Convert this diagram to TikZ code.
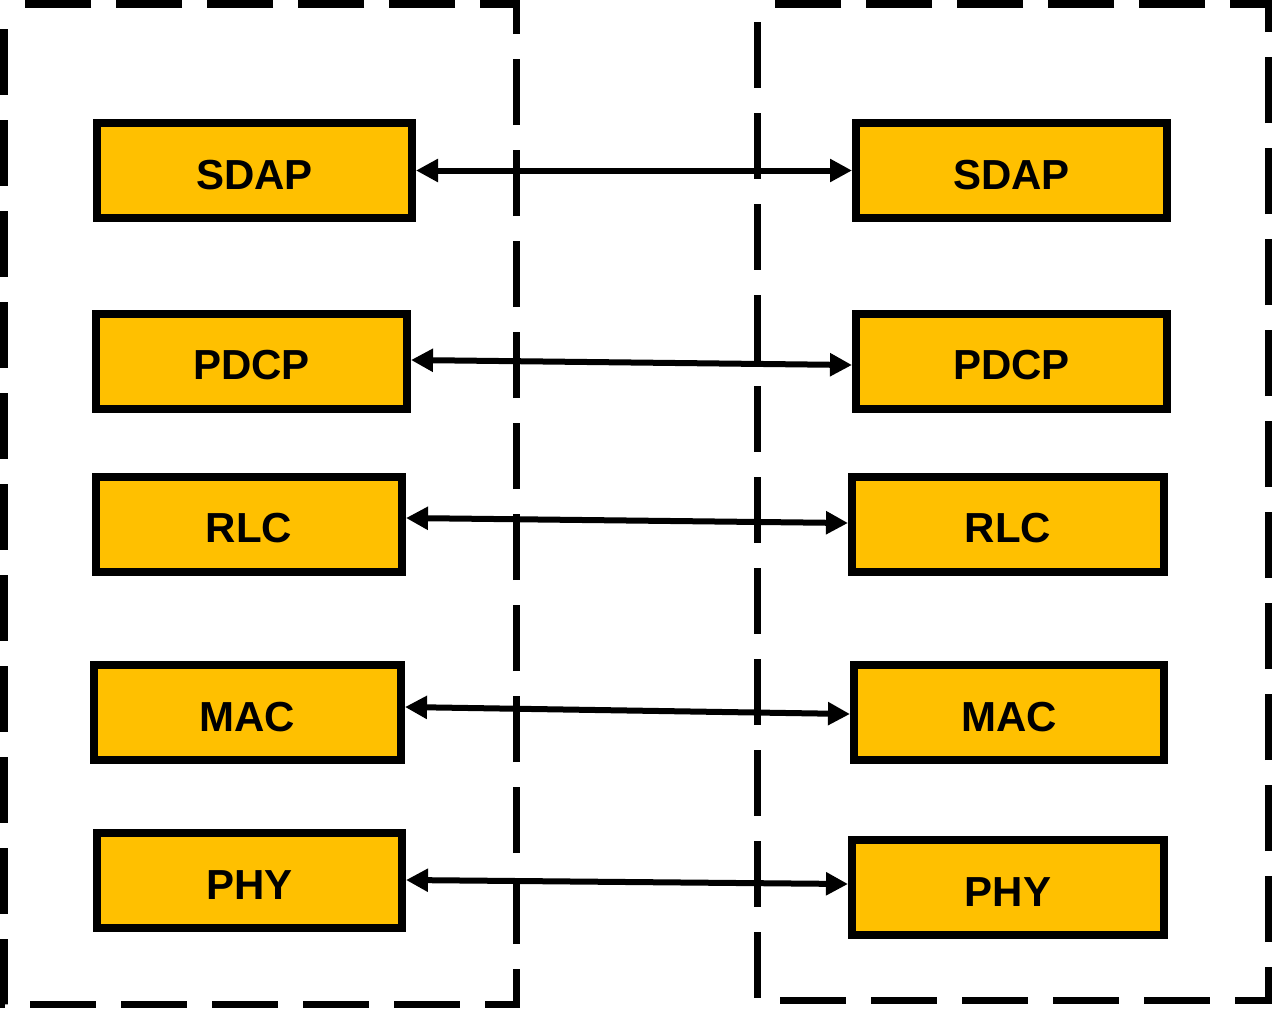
\documentclass[tikz,border=0pt]{standalone}
\usepackage{fontspec}
\setmainfont{Liberation Sans}
\usetikzlibrary{arrows.meta}
\definecolor{layerfill}{RGB}{255,192,0}
\begin{document}
\begin{tikzpicture}[x=1pt,y=-1pt,
  layer/.style={draw=black,fill=layerfill,line width=8pt,rectangle,
    minimum height=95pt,inner sep=0pt,text height=37pt,text depth=0pt,
    font=\fontsize{42}{50}\selectfont\bfseries},
  frame/.style={draw=black,line width=7pt,dash pattern=on 66pt off 25pt},
  link/.style={draw=black,line width=6pt,{Triangle[length=22pt,width=22pt]}-{Triangle[length=22pt,width=22pt]}}]
\useasboundingbox (0,0) rectangle (1273,1009);
% dashed frames
\draw[frame,dash phase=66pt] (4,4) -- (4,1004) -- (516,1004) -- (516,4) -- cycle;
\draw[frame,dash phase=73pt] (757,4) -- (757,1000) -- (1268,1000) -- (1268,4) -- cycle;
% left stack
\node[layer,minimum width=315pt] (ls) at (254.5,170.5) {SDAP};
\node[layer,minimum width=311pt] (lp) at (251.5,361) {PDCP};
\node[layer,minimum width=306pt] (lr) at (249,524) {RLC};
\node[layer,minimum width=307pt] (lm) at (247.5,712.5) {MAC};
\node[layer,minimum width=305pt] (lh) at (249.5,880.5) {PHY};
% right stack
\node[layer,minimum width=311pt] (rs) at (1011.5,170.5) {SDAP};
\node[layer,minimum width=311pt] (rp) at (1011.5,361) {PDCP};
\node[layer,minimum width=312pt] (rr) at (1008,524) {RLC};
\node[layer,minimum width=310pt] (rm) at (1009,712.5) {MAC};
\node[layer,minimum width=312pt] (rh) at (1008,887.5) {PHY};
% links
\draw[link] (ls.east) -- (rs.west);
\draw[link] ([yshift=1pt]lp.east) -- ([yshift=-4pt]rp.west);
\draw[link] ([yshift=6pt]lr.east) -- ([yshift=1pt]rr.west);
\draw[link] ([yshift=5.5pt]lm.east) -- ([yshift=-1.5pt]rm.west);
\draw[link] ([yshift=0.5pt]lh.east) -- ([yshift=3.5pt]rh.west);
\end{tikzpicture}
\end{document}
